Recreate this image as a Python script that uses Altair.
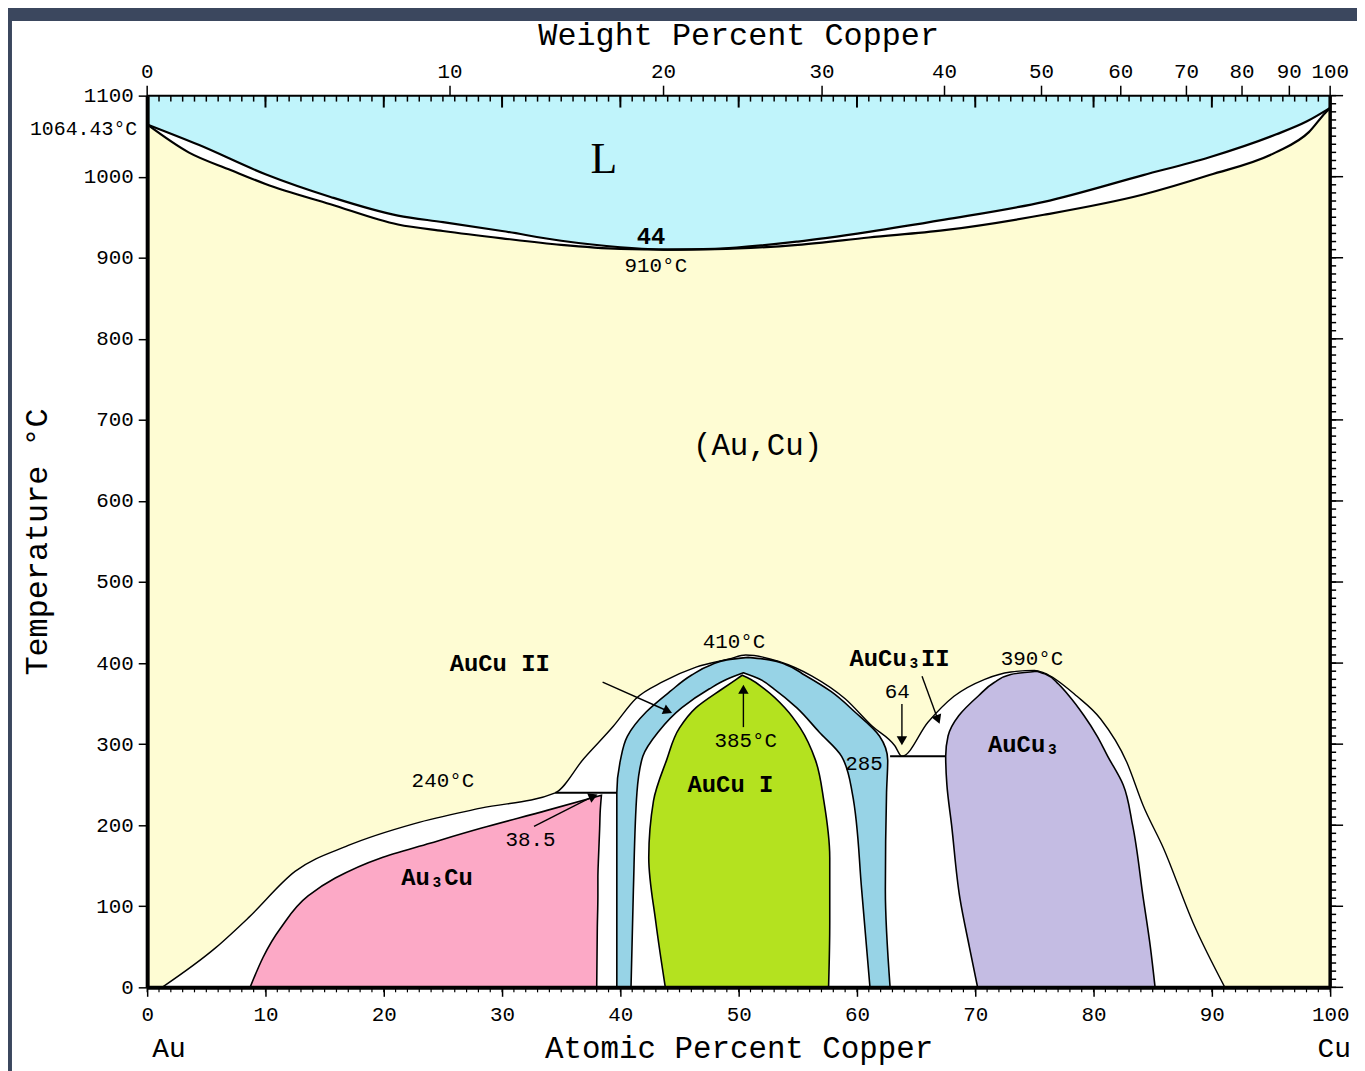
import altair as alt
import pandas as pd

W, H = 1190, 897
AT_MIN, AT_MAX = 0, 100
T_MIN, T_MAX = 0, 1100

# ---------------- data ----------------
liq_at = [0, 4.4, 10, 15.5, 21.2, 25, 30, 35, 40, 44, 48, 55, 61, 67.4, 75.8, 84.2, 89.8, 95.4, 98, 100]
liq_T = [1064.43, 1039, 1003, 975, 952, 944, 933, 921, 913, 910, 911, 920, 932, 947, 969, 1002, 1024, 1052, 1068, 1084.87]
sol_at = [0, 3.5, 7.1, 10, 15.5, 21.2, 25, 30, 35, 40, 44, 48, 55, 61, 67.4, 75.8, 84.2, 89.8, 95.4, 98.2, 99.6, 100]
sol_T = [1064.43, 1030, 1008, 991, 966, 941, 933, 924, 916, 911, 910, 910.5, 916, 925, 934, 953, 978, 1002, 1030, 1055, 1079, 1084.87]

# envelope of the ordered phases (boundary with (Au,Cu))
env_at = [1.26, 5.8, 8.57, 12.5, 17.0, 22.6, 28.2, 34.5, 36.9, 39.4, 41.3, 43.6, 46.4, 49.2, 50.6, 53.4, 56.2,
          59.0, 61.3, 63.2, 63.8, 66.0, 68.2, 70.8, 73.0, 75.0, 75.8, 78.6, 80.6, 82.8, 84.2, 85.9, 88.4, 91.1]
env_T = [0, 49, 86, 143, 175, 202, 221, 240, 282, 322, 356, 377, 395, 405, 410, 402, 384,
         356, 322, 298, 285, 327, 359, 380, 389, 391, 388, 359, 331, 278, 224, 172, 80, 0]

# Au3Cu
au3cu_T = [0, 73.6, 112.8, 134.9, 159.4, 177.8, 196.2, 218.3, 237]
au3cu_l = [8.7, 11.3, 13.6, 15.9, 19.7, 23.9, 28.2, 33.8, 38.4]
au3cu_r = [38.0, 38.05, 38.1, 38.1, 38.15, 38.2, 38.25, 38.3, 38.4]

# AuCu II (outer)
aucu2_T = [0, 120, 240, 280, 310, 340, 365, 385, 398, 404, 407]
aucu2_l = [39.7, 39.7, 39.7, 40.0, 40.6, 42.2, 44.2, 46.0, 47.7, 49.0, 50.8]
aucu2_r = [62.8, 62.4, 62.5, 62.6, 61.9, 59.8, 57.8, 55.6, 54.0, 52.6, 50.8]

# AuCu I + AuCu II two-phase (inner white)
gap_T = [0, 120, 240, 285, 315, 345, 368, 380, 388]
gap_l = [40.9, 41.1, 41.4, 41.9, 43.2, 45.2, 47.5, 49.0, 50.4]
gap_r = [61.1, 60.4, 59.6, 58.7, 56.8, 54.9, 53.0, 51.8, 50.4]

# AuCu I
aucu1_T = [0, 80, 160, 230, 280, 320, 345, 368, 380, 385]
aucu1_l = [43.8, 43.0, 42.4, 42.8, 43.9, 45.0, 46.4, 48.6, 49.8, 50.3]
aucu1_r = [57.6, 57.7, 57.7, 57.2, 56.5, 55.2, 53.9, 52.2, 51.0, 50.3]

# AuCu3
aucu3_T = [0, 50, 110, 200, 250, 285, 310, 335, 360, 376, 386, 390]
aucu3_l = [70.2, 69.5, 68.7, 68.0, 67.6, 67.5, 67.7, 68.6, 70.3, 71.6, 73.0, 75.2]
aucu3_r = [85.2, 84.8, 84.2, 83.3, 82.5, 81.2, 80.3, 79.2, 77.9, 76.9, 76.0, 75.2]

# invariant horizontals
hline_x0 = [34.5, 62.8]
hline_x1 = [39.7, 67.5]
hline_T = [240, 285]

# arrows (tail -> head)
arr_x0 = [38.5, 50.4, 32.7, 63.8, 65.5]
arr_T0 = [376.5, 321, 198.7, 349.5, 383.8]
arr_x1 = [43.9, 50.4, 37.6, 63.8, 66.8]
arr_T1 = [341.5, 366, 235, 306, 332]
arr_ang = [113.5, 0, 66, 180, 158.6]

# labels
bold_txt = ["AuCu II", "Au\u2083Cu", "AuCu I", "AuCu\u2083", "AuCu\u2083II", "44"]
bold_at = [29.8, 24.5, 49.3, 74.1, 63.6, 42.6]
bold_T = [398.5, 135, 249, 299, 405, 926]

norm_txt = ["910°C", "410°C", "390°C", "385°C", "285", "240°C", "38.5", "64"]
norm_at = [43.0, 49.6, 74.8, 50.6, 60.6, 25.0, 32.4, 63.4]
norm_T = [890, 425.5, 404.7, 304, 276, 255, 181.5, 364]

big_txt = ["(Au,Cu)"]
big_at = [51.6]
big_T = [668]

liq_lbl = ["L"]
liq_lbl_at = [38.6]
liq_lbl_T = [1020]

mp_lbl = ["1064.43°C"]
mp_T = [1064.43]

# top axis: weight percent copper (labels at their atomic-percent positions)
wt_labels = ["0", "10", "20", "30", "40", "50", "60", "70", "80", "90", "100"]
wt_at = [0, 25.6, 43.65, 57.05, 67.4, 75.6, 82.3, 87.85, 92.55, 96.55, 100]

at_ticks = list(range(0, 101, 10))
at_minor = list(range(0, 101, 1))
t_ticks = list(range(0, 1101, 100))
t_minor = list(range(0, 1101, 10))

# ---------------- styling ----------------
C_LIQ = "#c0f4fb"
C_SOL = "#fefcd3"
C_AU3CU = "#fca9c6"
C_AUCU1 = "#b4e21f"
C_AUCU2 = "#97d3e6"
C_AUCU3 = "#c4bce3"
MONO = "Liberation Mono"

xs = alt.Scale(domain=[AT_MIN, AT_MAX], nice=False, zero=False)
ys = alt.Scale(domain=[T_MIN, T_MAX], nice=False, zero=False)

x_axis = alt.Axis(values=at_ticks, title="Atomic Percent Copper", orient="bottom", grid=False, zindex=2,
                  format="d",
                  tickSize=9, tickWidth=1.5, tickColor="black", domainWidth=4, domainColor="black",
                  labelFont=MONO, labelFontSize=21, labelColor="black", labelPadding=7, labelFlush=False,
                  titleFont=MONO, titleFontSize=31, titleFontWeight="normal", titleColor="black",
                  titlePadding=10)
y_axis = alt.Axis(values=t_ticks, title="Temperature °C", orient="left", grid=False, zindex=2,
                  format="d",
                  tickSize=9, tickWidth=1.5, tickColor="black", domainWidth=4, domainColor="black",
                  labelFont=MONO, labelFontSize=21, labelColor="black", labelPadding=5, labelFlush=False,
                  titleFont=MONO, titleFontSize=32, titleFontWeight="normal", titleColor="black",
                  titlePadding=30)


def X(f):
    return alt.X(f, type="quantitative", scale=xs, axis=x_axis)


def Y(f):
    return alt.Y(f, type="quantitative", scale=ys, axis=y_axis)


frame = pd.DataFrame({"x0": [AT_MIN], "x1": [AT_MAX], "t0": [T_MIN], "t1": [T_MAX]})
sol_df = pd.DataFrame({"at": sol_at, "T": sol_T, "top": T_MAX})
liq_df = pd.DataFrame({"at": liq_at, "T": liq_T, "top": T_MAX})
env_df = pd.DataFrame({"at": env_at, "T": env_T, "base": T_MIN})


def hdf(T, l, r):
    return pd.DataFrame({"T": T, "xl": l, "xr": r})


panel = alt.Chart(frame).mark_rect(color="white").encode(
    x=alt.value(-136), x2=alt.value(W + 60), y=alt.value(-75), y2=alt.value(H + 120))

yellow = alt.Chart(frame).mark_rect(color=C_SOL).encode(
    x=X("x0"), x2=alt.X2("x1"), y=Y("t0"), y2=alt.Y2("t1"))

two_phase_ls = alt.Chart(sol_df).mark_area(color="white", interpolate="monotone").encode(
    x=X("at"), y=Y("T"), y2=alt.Y2("top"))
liquid = alt.Chart(liq_df).mark_area(color=C_LIQ, interpolate="monotone").encode(
    x=X("at"), y=Y("T"), y2=alt.Y2("top"))
liq_line = alt.Chart(liq_df).mark_line(color="black", strokeWidth=2.2, interpolate="monotone").encode(
    x=X("at"), y=Y("T"))
sol_line = alt.Chart(sol_df).mark_line(color="black", strokeWidth=2.2, interpolate="monotone").encode(
    x=X("at"), y=Y("T"))

envelope = alt.Chart(env_df).mark_area(fill="white", stroke="black", strokeWidth=1.4,
                                       interpolate="monotone").encode(
    x=X("at"), y=Y("T"), y2=alt.Y2("base"))


def harea(T, l, r, fill, sw=1.6):
    return alt.Chart(hdf(T, l, r)).mark_area(orient="horizontal", fill=fill, stroke="black",
                                               strokeWidth=sw, interpolate="monotone").encode(
        y=Y("T"), x=X("xl"), x2=alt.X2("xr"))


au3cu = harea(au3cu_T, au3cu_l, au3cu_r, C_AU3CU)
aucu2 = harea(aucu2_T, aucu2_l, aucu2_r, C_AUCU2)
gap = harea(gap_T, gap_l, gap_r, "white")
aucu1 = harea(aucu1_T, aucu1_l, aucu1_r, C_AUCU1)
aucu3 = harea(aucu3_T, aucu3_l, aucu3_r, C_AUCU3)

hl_df = pd.DataFrame({"x0": hline_x0, "x1": hline_x1, "T": hline_T})
hlines = alt.Chart(hl_df).mark_rule(color="black", strokeWidth=2).encode(
    x=X("x0"), x2=alt.X2("x1"), y=Y("T"))

arr_df = pd.DataFrame({"x0": arr_x0, "t0": arr_T0, "x1": arr_x1, "t1": arr_T1, "ang": arr_ang})
arr_lines = alt.Chart(arr_df).mark_rule(color="black", strokeWidth=1.4).encode(
    x=X("x0"), y=Y("t0"), x2=alt.X2("x1"), y2=alt.Y2("t1"))
arr_heads = alt.Chart(arr_df).mark_point(shape="triangle", filled=True, color="black", opacity=1,
                                         size=110).encode(
    x=X("x1"), y=Y("t1"), angle=alt.Angle("ang:Q", scale=None))

bold_df = pd.DataFrame({"t": bold_txt, "at": bold_at, "T": bold_T})
norm_df = pd.DataFrame({"t": norm_txt, "at": norm_at, "T": norm_T})
big_df = pd.DataFrame({"t": big_txt, "at": big_at, "T": big_T})
l_df = pd.DataFrame({"t": liq_lbl, "at": liq_lbl_at, "T": liq_lbl_T})
mp_df = pd.DataFrame({"t": mp_lbl, "at": [AT_MIN], "T": mp_T})

bold_text = alt.Chart(bold_df).mark_text(font=MONO, fontSize=24, fontWeight="bold", color="black",
                                          baseline="middle").encode(x=X("at"), y=Y("T"), text="t:N")
norm_text = alt.Chart(norm_df).mark_text(font=MONO, fontSize=21, color="black",
                                          baseline="middle").encode(x=X("at"), y=Y("T"), text="t:N")
big_text = alt.Chart(big_df).mark_text(font=MONO, fontSize=31, color="black",
                                        baseline="middle").encode(x=X("at"), y=Y("T"), text="t:N")
l_text = alt.Chart(l_df).mark_text(font="Liberation Serif", fontSize=44, color="black",
                                    baseline="middle").encode(x=X("at"), y=Y("T"), text="t:N")
mp_text = alt.Chart(mp_df).mark_text(font=MONO, fontSize=20, color="black", baseline="middle",
                                      align="right", dx=-10, dy=5).encode(x=X("at"), y=Y("T"), text="t:N")

# frame lines and extra ticks
top_line = alt.Chart(frame).mark_rule(color="black", strokeWidth=2).encode(
    x=X("x0"), x2=alt.X2("x1"), y=alt.value(0))
right_line = alt.Chart(frame).mark_rule(color="black", strokeWidth=3.5).encode(
    x=alt.value(W), y=alt.value(0), y2=alt.value(H))

minor_at_df = pd.DataFrame({"at": at_minor})
major_at_df = pd.DataFrame({"at": at_ticks})
top_minor = alt.Chart(minor_at_df).mark_rule(color="black", strokeWidth=1.5).encode(
    x=X("at"), y=alt.value(0), y2=alt.value(6))
top_major = alt.Chart(major_at_df).mark_rule(color="black", strokeWidth=2).encode(
    x=X("at"), y=alt.value(0), y2=alt.value(12))
bot_minor = alt.Chart(minor_at_df).mark_rule(color="black", strokeWidth=1.2).encode(
    x=X("at"), y=alt.value(H), y2=alt.value(H + 5))

wt_df = pd.DataFrame({"t": wt_labels, "at": wt_at})
wt_ticks = alt.Chart(wt_df).mark_rule(color="black", strokeWidth=1.5).encode(
    x=X("at"), y=alt.value(-10), y2=alt.value(0))
wt_text = alt.Chart(wt_df).mark_text(font=MONO, fontSize=21, color="black", baseline="middle").encode(
    x=X("at"), y=alt.value(-24), text="t:N")

t_minor_df = pd.DataFrame({"T": t_minor})
t_major_df = pd.DataFrame({"T": t_ticks})
r_minor = alt.Chart(t_minor_df).mark_rule(color="black", strokeWidth=1.5).encode(
    y=Y("T"), x=alt.value(W), x2=alt.value(W + 6))
r_major = alt.Chart(t_major_df).mark_rule(color="black", strokeWidth=1.5).encode(
    y=Y("T"), x=alt.value(W), x2=alt.value(W + 13))

top_title = alt.Chart(pd.DataFrame({"t": ["Weight Percent Copper"], "at": [50]})).mark_text(
    font=MONO, fontSize=32, color="black", baseline="middle").encode(
    x=X("at"), y=alt.value(-61), text="t:N")
au_end = alt.Chart(pd.DataFrame({"t": ["Au"], "at": [AT_MIN]})).mark_text(
    font=MONO, fontSize=28, color="black", baseline="middle", dx=22).encode(
    x=X("at"), y=alt.value(H + 62), text="t:N")
cu_end = alt.Chart(pd.DataFrame({"t": ["Cu"], "at": [AT_MAX]})).mark_text(
    font=MONO, fontSize=28, color="black", baseline="middle", dx=4).encode(
    x=X("at"), y=alt.value(H + 62), text="t:N")

chart = alt.layer(
    panel, yellow, two_phase_ls, liquid, liq_line, sol_line,
    envelope, au3cu, aucu2, gap, aucu1, aucu3, hlines,
    arr_lines, arr_heads,
    bold_text, norm_text, big_text, l_text, mp_text,
    top_line, right_line, top_minor, top_major, bot_minor, wt_ticks, wt_text, r_minor, r_major,
    top_title, au_end, cu_end,
).properties(
    width=W, height=H,
    padding={"left": 140, "top": 85, "right": 27, "bottom": 81},
    autosize=alt.AutoSizeParams(type="none"),
    background="#3b475e",
).configure_view(strokeWidth=0)

chart.save("out.html", embed_options={"renderer": "svg", "actions": False})
